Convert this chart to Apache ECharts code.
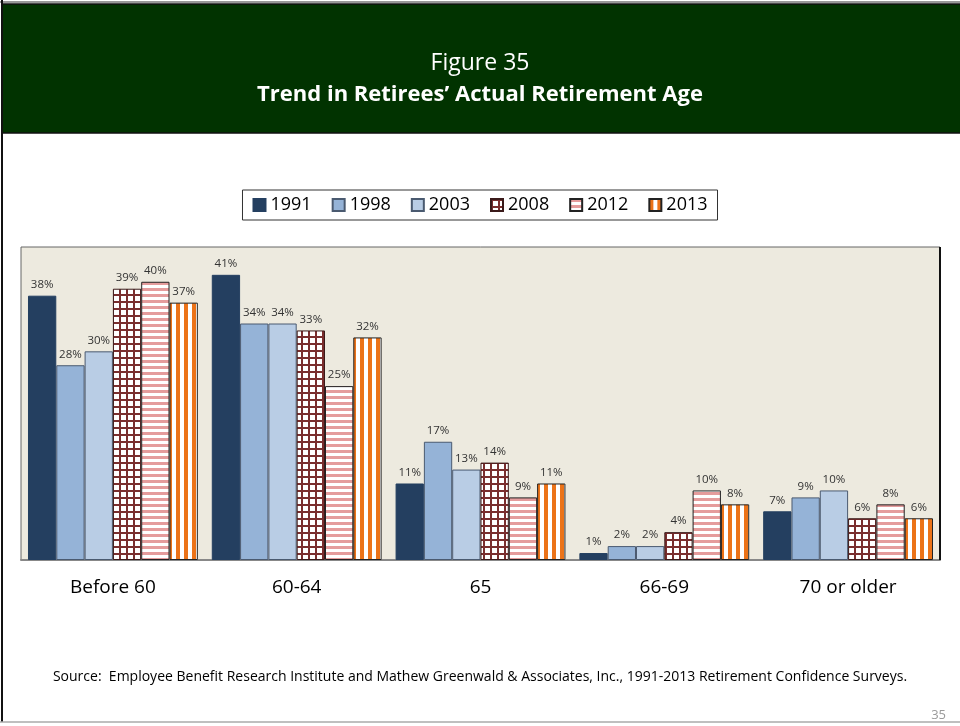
<!DOCTYPE html>
<html>
<head>
<meta charset="utf-8">
<script src="https://cdn.jsdelivr.net/npm/echarts@6/dist/echarts.min.js"></script>
<style>
html,body{margin:0;padding:0;background:#fff;}
#chart{width:960px;height:726px;}
</style>
</head>
<body>
<div id="chart"></div>
<script>
// ---- data ----
var categories = ['Before 60', '60-64', '65', '66-69', '70 or older'];
var seriesNames = ['1991', '1998', '2003', '2008', '2012', '2013'];
var v1991 = [38, 41, 11, 1, 7];
var v1998 = [28, 34, 17, 2, 9];
var v2003 = [30, 34, 13, 2, 10];
var v2008 = [39, 33, 14, 4, 6];
var v2012 = [40, 25, 9, 10, 8];
var v2013 = [37, 32, 11, 8, 6];
var titleLine1 = 'Figure 35';
var titleLine2 = 'Trend in Retirees\u2019 Actual Retirement Age';
var sourceText = 'Source:  Employee Benefit Research Institute and Mathew Greenwald & Associates, Inc., 1991-2013 Retirement Confidence Surveys.';
var pageNum = '35';

// ---- patterns ----
function makeCanvas(w, h, draw) {
  var c = document.createElement('canvas');
  c.width = w; c.height = h;
  var ctx = c.getContext('2d');
  draw(ctx, w, h);
  return c;
}
var gridPat = makeCanvas(7, 7, function (ctx, w, h) {
  ctx.fillStyle = '#ffffff'; ctx.fillRect(0, 0, w, h);
  ctx.fillStyle = '#7a2e2e';
  ctx.fillRect(0, 0, w, 2);
  ctx.fillRect(0, 0, 2, h);
});
var hStripePat = makeCanvas(6, 6, function (ctx, w, h) {
  ctx.fillStyle = '#ffffff'; ctx.fillRect(0, 0, w, h);
  ctx.fillStyle = '#e59c9c';
  ctx.fillRect(0, 0, w, 3);
});
var vStripePat = makeCanvas(8, 8, function (ctx, w, h) {
  ctx.fillStyle = '#ffffff'; ctx.fillRect(0, 0, w, h);
  ctx.fillStyle = '#ec7318';
  ctx.fillRect(0, 0, 4, h);
});

var fills = [
  '#243f60',
  '#95b3d7',
  '#b9cde5',
  { image: gridPat, repeat: 'repeat' },
  { image: hStripePat, repeat: 'repeat' },
  { image: vStripePat, repeat: 'repeat' }
];
var borders = ['#243f60', '#4a5a70', '#4a5a70', '#3a1a1a', '#222222', '#222222'];
var values = [v1991, v1998, v2003, v2008, v2012, v2013];

var FONT = 'Open Sans';

var series = seriesNames.map(function (name, i) {
  return {
    name: name,
    type: 'bar',
    data: values[i],
    barGap: '0%',
    barCategoryGap: '7.6%',
    itemStyle: { color: fills[i], borderColor: borders[i], borderWidth: 1 },
    label: {
      show: true, position: 'top', distance: 5,
      formatter: '{c}%', fontSize: 11.5, color: '#333', fontFamily: FONT
    }
  };
});

var chart = echarts.init(document.getElementById('chart'), null, { renderer: 'canvas' });
chart.setOption({
  backgroundColor: '#ffffff',
  animation: false,
  textStyle: { fontFamily: FONT },
  graphic: [
    { type: 'rect', shape: { x: 2, y: 4, width: 960, height: 129 },
      style: { fill: '#013300', stroke: '#111', lineWidth: 1.5 }, z: -1 },
    { type: 'line', shape: { x1: 0, y1: 2, x2: 960, y2: 2 }, style: { stroke: '#999', lineWidth: 2 } },
    { type: 'line', shape: { x1: 2, y1: 0, x2: 2, y2: 722 }, style: { stroke: '#111', lineWidth: 2 } },
    { type: 'line', shape: { x1: 0, y1: 722, x2: 960, y2: 722 }, style: { stroke: '#aaa', lineWidth: 1.5 } },
    { type: 'line', shape: { x1: 940, y1: 247, x2: 940, y2: 560 }, style: { stroke: '#111', lineWidth: 2 }, z: 10 },
    { type: 'text', x: 480, y: 677,
      style: { text: sourceText, fill: '#000', fontSize: 14, fontFamily: FONT, textAlign: 'center', textVerticalAlign: 'middle' } },
    { type: 'text', x: 946, y: 715,
      style: { text: pageNum, fill: '#9a9a9a', fontSize: 13, fontFamily: FONT, textAlign: 'right', textVerticalAlign: 'middle' } }
  ],
  title: [
    { text: titleLine1, left: 'center', top: 47,
      textStyle: { color: '#fff', fontSize: 23, fontWeight: 'normal', fontFamily: FONT } },
    { text: titleLine2, left: 'center', top: 79,
      textStyle: { color: '#fff', fontSize: 22, fontWeight: 'bold', fontFamily: FONT } }
  ],
  legend: {
    data: seriesNames,
    left: 'center', top: 190,
    itemWidth: 12, itemHeight: 12, itemGap: 20,
    icon: 'rect',
    padding: [6, 10],
    borderColor: '#333', borderWidth: 1,
    textStyle: { fontSize: 18, color: '#000', fontFamily: FONT }
  },
  grid: {
    left: 21, top: 247, width: 919, height: 313,
    show: true, backgroundColor: '#edeadf', borderColor: '#666', borderWidth: 1
  },
  xAxis: {
    type: 'category', data: categories,
    axisLine: { show: true, lineStyle: { color: '#888', width: 2 } },
    axisTick: { show: false },
    axisLabel: { fontSize: 19, color: '#000', margin: 18, fontFamily: FONT }
  },
  yAxis: {
    type: 'value', min: 0, max: 45, show: false,
    splitLine: { show: false }
  },
  series: series
});
</script>
</body>
</html>
